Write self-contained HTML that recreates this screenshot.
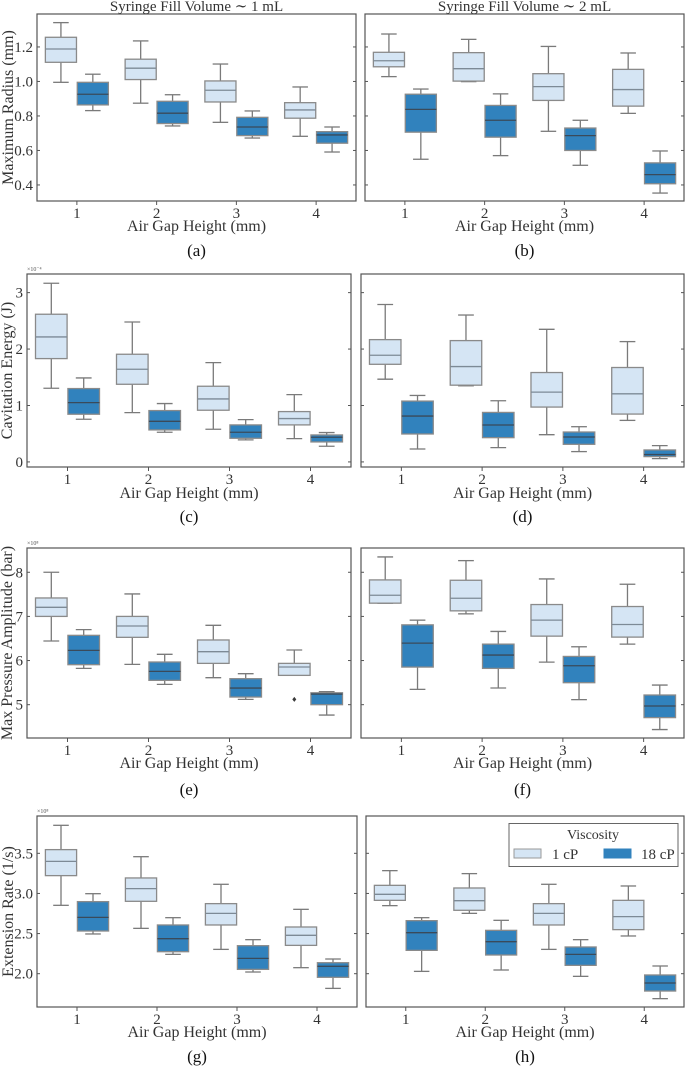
<!DOCTYPE html>
<html><head><meta charset="utf-8">
<style>
html,body{margin:0;padding:0;background:#fff;}
svg{display:block;}
svg text{font-family:"Liberation Serif","DejaVu Serif",serif;}
</style></head>
<body>
<svg id="fig" width="685" height="1067" viewBox="0 0 685 1067" xmlns="http://www.w3.org/2000/svg" font-family="Liberation Serif, serif"></svg>
<script>
const categories = ["1","2","3","4"];
// each entry: [whisker low, q1, median, q3, whisker high]
const radius1mL_1cP = [[0.995,1.111,1.188,1.256,1.341],[0.874,1.011,1.077,1.129,1.235],[0.763,0.881,0.949,1.003,1.101],[0.682,0.787,0.835,0.877,0.968]];
const radius1mL_18cP = [[0.831,0.864,0.926,0.995,1.042],[0.742,0.756,0.816,0.885,0.923],[0.672,0.686,0.736,0.792,0.829],[0.591,0.642,0.690,0.709,0.736]];
const radius2mL_1cP = [[1.028,1.085,1.120,1.169,1.275],[0.999,1.002,1.074,1.167,1.244],[0.711,0.890,0.970,1.045,1.203],[0.815,0.857,0.953,1.070,1.165]];
const radius2mL_18cP = [[0.549,0.706,0.838,0.926,0.956],[0.570,0.677,0.775,0.861,0.928],[0.514,0.600,0.686,0.730,0.775],[0.353,0.407,0.460,0.528,0.597]];
const energy1mL_1cP = [[1.305,1.831,2.215,2.617,3.166],[0.874,1.376,1.642,1.908,2.480],[0.579,0.916,1.116,1.341,1.760],[0.413,0.656,0.768,0.892,1.193]];
const energy1mL_18cP = [[0.756,0.845,1.051,1.300,1.488],[0.526,0.567,0.720,0.910,1.034],[0.390,0.419,0.526,0.656,0.750],[0.278,0.354,0.437,0.478,0.520]];
const energy2mL_1cP = [[1.466,1.730,1.890,2.167,2.790],[1.349,1.360,1.690,2.150,2.603],[0.483,0.972,1.237,1.584,2.350],[0.736,0.848,1.207,1.673,2.132]];
const energy2mL_18cP = [[0.229,0.495,0.813,1.078,1.178],[0.253,0.430,0.654,0.877,1.084],[0.183,0.312,0.442,0.530,0.624],[0.059,0.094,0.130,0.212,0.289]];
const pressure1mL_1cP = [[6.443,7.000,7.206,7.418,8.000],[5.914,6.526,6.783,7.000,7.509],[5.611,5.936,6.201,6.466,6.798],[5.664,5.664,5.853,5.936,6.239]];
const pressure1mL_18cP = [[5.823,5.906,6.231,6.571,6.700],[5.460,5.551,5.755,5.967,6.141],[5.120,5.173,5.377,5.589,5.702],[4.765,5.000,5.240,5.270,5.294]];
const pressure1mL_1cP_fliers = [[],[],[],[5.12]];
const pressure2mL_1cP = [[7.300,7.300,7.480,7.827,8.347],[7.058,7.126,7.412,7.819,8.264],[5.965,6.553,6.915,7.269,7.849],[6.372,6.531,6.817,7.224,7.729]];
const pressure2mL_18cP = [[5.347,5.852,6.395,6.809,6.915],[5.378,5.822,6.124,6.372,6.659],[5.114,5.498,5.882,6.093,6.312],[4.436,4.707,4.970,5.219,5.445]];
const ext1mL_1cP = [[2.852,3.222,3.400,3.546,3.849],[2.565,2.902,3.060,3.193,3.458],[2.303,2.607,2.752,2.873,3.114],[2.075,2.353,2.478,2.582,2.802]];
const ext1mL_18cP = [[2.495,2.532,2.702,2.898,2.997],[2.241,2.274,2.436,2.607,2.698],[2.021,2.054,2.191,2.349,2.424],[1.817,1.955,2.092,2.137,2.183]];
const ext2mL_1cP = [[2.848,2.914,2.989,3.101,3.284],[2.752,2.790,2.910,3.068,3.247],[2.303,2.607,2.752,2.873,3.114],[2.470,2.549,2.711,2.914,3.093]];
const ext2mL_18cP = [[2.029,2.291,2.511,2.661,2.698],[2.046,2.233,2.399,2.540,2.665],[1.967,2.104,2.241,2.333,2.424],[1.689,1.784,1.884,1.984,2.096]];
const radiusTicks = [0.4,0.6,0.8,1.0,1.2];
const energyTicks = [0,1,2,3];
const pressureTicks = [5,6,7,8];
const extTicks = [2.0,2.5,3.0,3.5];
const radiusTickLabels = ["0.4","0.6","0.8","1.0","1.2"];
const energyTickLabels = ["0","1","2","3"];
const pressureTickLabels = ["5","6","7","8"];
const extTickLabels = ["2.0","2.5","3.0","3.5"];

const NS = "http://www.w3.org/2000/svg";
const fig = document.getElementById("fig");
const SERIF = "'Liberation Serif', serif";
function mk(tag, attrs, parent, text){
  const e = document.createElementNS(NS, tag);
  for (const k in attrs) e.setAttribute(k, attrs[k]);
  if (tag === "text") e.setAttribute("font-family", SERIF);
  if (text !== undefined) e.textContent = text;
  (parent || fig).appendChild(e);
  return e;
}
const LIGHT = "#d5e5f4", DARK = "#3182bd", EDGE = "#7a7a7a", FRAME = "#555";

function panel(p){
  const g = mk("g", {});
  
  
  const yScale = v => p.top + (p.ymax - v) / (p.ymax - p.ymin) * (p.bottom - p.top);
  const band = (p.right - p.left) / categories.length;
  const xScale = i => p.left + band * (i + 0.5);
  const bw = band * 0.39, off = band * 0.2;
  const fr = mk("rect", {x:p.left, y:p.top, width:p.right-p.left, height:p.bottom-p.top, fill:"none", stroke:FRAME, "stroke-width":1.2}, g);
  
  
  p.ticks.forEach((t, k) => {
    const y = yScale(t);
    mk("line", {x1:p.left, x2:p.left+3, y1:y, y2:y, stroke:FRAME, "stroke-width":1}, g);
    mk("line", {x1:p.right-3, x2:p.right, y1:y, y2:y, stroke:FRAME, "stroke-width":1}, g);
    if (p.showY) {
      const tl = mk("text", {x:p.left-4, y:y+5, "text-anchor":"end", "font-size":15, fill:"#333"}, g, p.tickLabels[k]);
      
      
    }
  });
  categories.forEach((c, i) => {
    const x = xScale(i);
    mk("line", {x1:x, x2:x, y1:p.bottom, y2:p.bottom+4, stroke:FRAME, "stroke-width":1}, g);
    const xl = mk("text", {x:x, y:p.bottom+17, "text-anchor":"middle", "font-size":15, fill:"#333"}, g, c);
    
    
  });
  [[p.light, LIGHT, -off, "1cp"], [p.dark, DARK, off, "18cp"]].forEach(([ser, col, dx, nm]) => {
    ser.forEach((s, i) => {
      const cx = xScale(i) + dx;
      const [lo, q1, md, q3, hi] = s;
      const bg = mk("g", {}, g);
      
      
      const wc = EDGE;
      mk("line", {x1:cx, x2:cx, y1:yScale(hi), y2:yScale(q3), stroke:wc, "stroke-width":1.3}, bg);
      mk("line", {x1:cx, x2:cx, y1:yScale(q1), y2:yScale(lo), stroke:wc, "stroke-width":1.3}, bg);
      mk("line", {x1:cx-bw/4, x2:cx+bw/4, y1:yScale(hi), y2:yScale(hi), stroke:wc, "stroke-width":1.3}, bg);
      mk("line", {x1:cx-bw/4, x2:cx+bw/4, y1:yScale(lo), y2:yScale(lo), stroke:wc, "stroke-width":1.3}, bg);
      mk("rect", {x:cx-bw/2, y:yScale(q3), width:bw, height:Math.max(0.5, yScale(q1)-yScale(q3)), fill:col, stroke:"#8a8a8a", "stroke-width":1.3}, bg);
      mk("line", {x1:cx-bw/2, x2:cx+bw/2, y1:yScale(md), y2:yScale(md), stroke:nm==="1cp"?"#7d8a96":"#3a4a5a", "stroke-width":1.3}, bg);
    });
  });
  if (p.fliers) p.fliers.forEach((fl, i) => fl.forEach(v => {
    const c = mk("path", {d:`M${xScale(i)-off} ${yScale(v)-2.5} l2 2.5 l-2 2.5 l-2 -2.5z`, fill:"#3a3a3a"}, g);
    
    
  }));
  const xt = mk("text", {x:(p.left+p.right)/2, y:p.xlabY, "text-anchor":"middle", "font-size":16, fill:"#333"}, g, "Air Gap Height (mm)");
  
  
  const lt = mk("text", {x:(p.left+p.right)/2, y:p.capY, "text-anchor":"middle", "font-size":17, fill:"#111"}, g, "(" + p.letter + ")");
  
  
  if (p.ytitle) {
    const cy = (p.top + p.bottom) / 2;
    const yt = mk("text", {x:p.ytx, y:cy, "text-anchor":"middle", "font-size":16, fill:"#333", transform:`rotate(-90 ${p.ytx} ${cy})`}, g, p.ytitle);
    
    
  }
  if (p.mult) {
    const mt = mk("text", {x:p.left, y:p.top-3, "font-size":6, fill:"#555"}, g, p.mult);
    
    
  }
  if (p.title) {
    const tt = mk("text", {x:(p.left+p.right)/2, y:p.top-3, "text-anchor":"middle", "font-size":15, fill:"#333"}, g, p.title);
    
    
  }
}

panel({letter:"a", left:37, right:356, top:14, bottom:201, ymin:0.307, ymax:1.391, ticks:radiusTicks, tickLabels:radiusTickLabels, showY:true, light:radius1mL_1cP, dark:radius1mL_18cP, xlabY:231, capY:256, ytitle:"Maximum Radius (mm)", ytx:13, title:"Syringe Fill Volume ∼ 1 mL"});
panel({letter:"b", left:365, right:684, top:14, bottom:201, ymin:0.307, ymax:1.391, ticks:radiusTicks, tickLabels:radiusTickLabels, showY:false, light:radius2mL_1cP, dark:radius2mL_18cP, xlabY:231, capY:256, title:"Syringe Fill Volume ∼ 2 mL"});
panel({letter:"c", left:27, right:351, top:274, bottom:467, ymin:-0.09, ymax:3.33, ticks:energyTicks, tickLabels:energyTickLabels, showY:true, light:energy1mL_1cP, dark:energy1mL_18cP, xlabY:498, capY:522, ytitle:"Cavitation Energy (J)", ytx:12, mult:"×10⁻⁴"});
panel({letter:"d", left:361, right:684, top:274, bottom:467, ymin:-0.09, ymax:3.33, ticks:energyTicks, tickLabels:energyTickLabels, showY:false, light:energy2mL_1cP, dark:energy2mL_18cP, xlabY:498, capY:522});
panel({letter:"e", left:27, right:351, top:548, bottom:738, ymin:4.245, ymax:8.55, ticks:pressureTicks, tickLabels:pressureTickLabels, showY:true, light:pressure1mL_1cP, dark:pressure1mL_18cP, fliers:pressure1mL_1cP_fliers, xlabY:768, capY:795, ytitle:"Max Pressure Amplitude (bar)", ytx:12, mult:"×10⁸"});
panel({letter:"f", left:361, right:684, top:548, bottom:738, ymin:4.245, ymax:8.55, ticks:pressureTicks, tickLabels:pressureTickLabels, showY:false, light:pressure2mL_1cP, dark:pressure2mL_18cP, xlabY:768, capY:795});
panel({letter:"g", left:37, right:357, top:816, bottom:1007, ymin:1.585, ymax:3.965, ticks:extTicks, tickLabels:extTickLabels, showY:true, light:ext1mL_1cP, dark:ext1mL_18cP, xlabY:1037, capY:1062, ytitle:"Extension Rate (1/s)", ytx:13, mult:"×10⁸"});
panel({letter:"h", left:366, right:684, top:816, bottom:1007, ymin:1.585, ymax:3.965, ticks:extTicks, tickLabels:extTickLabels, showY:false, light:ext2mL_1cP, dark:ext2mL_18cP, xlabY:1037, capY:1062});

const lg = mk("g", {});


mk("rect", {x:509, y:823.5, width:169, height:43, fill:"#fff", stroke:"#666", "stroke-width":1}, lg);
const lt1 = mk("text", {x:593, y:839, "text-anchor":"middle", "font-size":14, fill:"#333"}, lg, "Viscosity");


const le1 = mk("g", {}, lg);


mk("rect", {x:514, y:849, width:27, height:9, fill:LIGHT, stroke:"#999", "stroke-width":1}, le1);
mk("text", {x:552, y:859, "font-size":15, fill:"#333"}, le1, "1 cP");
const le2 = mk("g", {}, lg);


mk("rect", {x:604, y:849, width:27, height:9, fill:DARK, stroke:"#3182bd", "stroke-width":1}, le2);
mk("text", {x:641, y:859, "font-size":15, fill:"#333"}, le2, "18 cP");
</script>
</body></html>
